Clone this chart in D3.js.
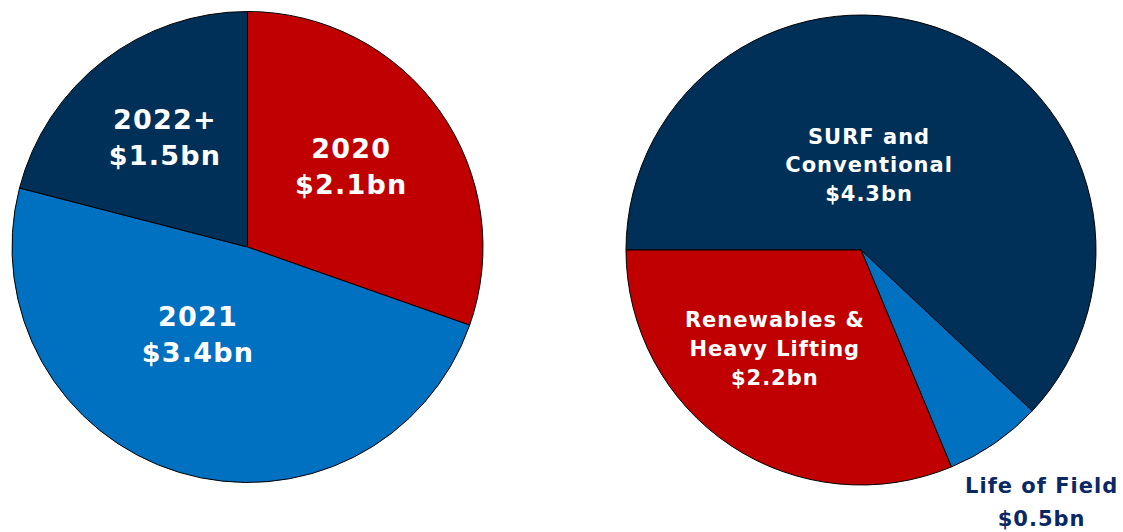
<!DOCTYPE html>
<html>
<head>
<meta charset="utf-8">
<script src="https://cdn.jsdelivr.net/npm/d3@7"></script>
<style>
  body { margin: 0; background: #fff; }
  svg { display: block; }
  text { font-family: "DejaVu Sans", Verdana, sans-serif; font-weight: bold; }
</style>
</head>
<body>
<div id="chart"></div>
<script>
// left pie: backlog by year (slice sizes)
var yearCats = ["2020", "2021", "2022+"];
var yearValues = [2.13, 3.41, 1.47];
var yearLabels = [["2020", "$2.1bn"], ["2021", "$3.4bn"], ["2022+", "$1.5bn"]];

// right pie: backlog by business unit
var unitCats = ["SURF and Conventional", "Life of Field", "Renewables & Heavy Lifting"];
var unitValues = [4.34, 0.47, 2.19];
var unitLabels = [["SURF and", "Conventional", "$4.3bn"], ["Life of Field", "$0.5bn"], ["Renewables &", "Heavy Lifting", "$2.2bn"]];

var width = 1123, height = 532;

var svg = d3.select("#chart")
    .append("svg")
    .attr("width", width)
    .attr("height", height);

var navy = "#003057", red = "#c00000", blue = "#0070c0";

// label placement: radius as fraction of R, angle shift (deg) from slice middle
var leftPlace = {"2020": {r: 0.558, da: -2.6}, "2021": {r: 0.426, da: 12.6}, "2022+": {r: 0.583, da: 0.8}};
var rightPlace = {
    "SURF and Conventional": {r: 0.364, da: -16.2, lh: 28.7, color: "#fff"},
    "Life of Field": {r: 1.32, da: -0.9, lh: 32.5, color: "#0a2864"},
    "Renewables & Heavy Lifting": {r: 0.557, da: 7.5, lh: 28.7, color: "#fff"}
};

function drawPie(opts) {
    var g = svg.append("g")
        .attr("transform", `translate(${opts.cx},${opts.cy})`);

    var pie = d3.pie()
        .sort(null)
        .value(function(d){ return d.value; })
        .startAngle(opts.start)
        .endAngle(opts.start + 2 * Math.PI);

    var arc = d3.arc().innerRadius(0).outerRadius(opts.r);

    var data = opts.cats.map(function(c, i){
        return {cat: c, value: opts.values[i], lines: opts.labels[i]};
    });

    var color = d3.scaleOrdinal().domain(opts.cats).range(opts.colors);

    g.selectAll("path")
        .data(pie(data))
        .enter()
        .append("path")
        .attr("d", arc)
        .attr("fill", function(d){ return color(d.data.cat); })
        .attr("stroke", "#000")
        .attr("stroke-width", 1)
        .attr("stroke-linejoin", "round");

    g.selectAll("text")
        .data(pie(data))
        .enter()
        .append("text")
        .each(function(d){
            var p = opts.place[d.data.cat];
            var a = (d.startAngle + d.endAngle) / 2 + p.da * Math.PI / 180;
            var rr = p.r * opts.r;
            var x = rr * Math.sin(a), y = -rr * Math.cos(a);
            var lh = p.lh || opts.lh;
            var n = d.data.lines.length;
            var t = d3.select(this)
                .attr("text-anchor", "middle")
                .attr("font-size", opts.fontSize)
                .attr("letter-spacing", opts.ls)
                .attr("fill", p.color || "#fff");
            d.data.lines.forEach(function(line, i){
                t.append("tspan")
                    .attr("x", x)
                    .attr("y", y + opts.cap / 2 + (i - (n - 1) / 2) * lh)
                    .text(line);
            });
        });
}

drawPie({
    cx: 247.5, cy: 247, r: 235.5, start: 0,
    cats: yearCats, values: yearValues, labels: yearLabels,
    colors: [red, blue, navy], place: leftPlace,
    fontSize: 27, ls: 1.2, lh: 36, cap: 20
});

drawPie({
    cx: 861, cy: 250, r: 235, start: -Math.PI / 2,
    cats: unitCats, values: unitValues, labels: unitLabels,
    colors: [navy, blue, red], place: rightPlace,
    fontSize: 21, ls: 1, lh: 28.7, cap: 15
});
</script>
</body>
</html>
